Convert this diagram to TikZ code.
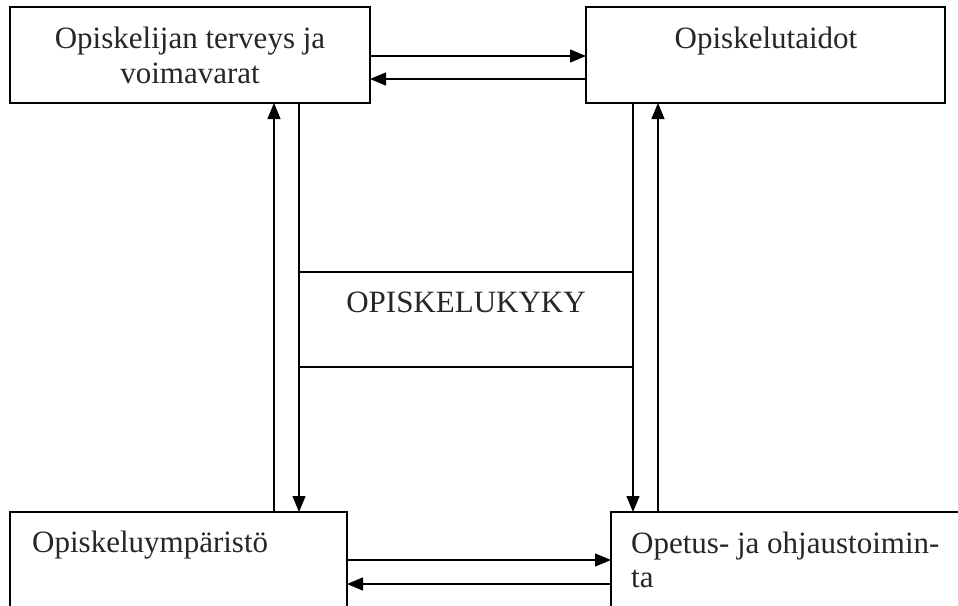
\documentclass[tikz,border=0pt]{standalone}
\usepackage{fontspec}
\setmainfont{Liberation Serif}
\usetikzlibrary{arrows.meta}

\tikzset{
  panel/.style={draw, line width=1.3pt, inner sep=0pt, outer sep=0pt, anchor=north west},
  lbl/.style={font=\fontsize{31}{35}\selectfont, inner sep=0pt, text=black!85},
  arr/.style={line width=1.3pt, -{Triangle[length=16pt,width=13pt]}}
}

\begin{document}
\begin{tikzpicture}[x=1pt, y=-1pt]
\useasboundingbox (0,0) rectangle (958,605);
\clip (0,0) rectangle (958,605);
% Boxes
\node[panel, minimum width=360pt, minimum height=96pt] (terveys) at (10,7) {};
\node[panel, minimum width=359pt, minimum height=96pt] (taidot) at (586,7) {};
\node[panel, minimum width=334pt, minimum height=95pt] (kyky) at (299,272) {};
\node[panel, minimum width=337pt, minimum height=120pt] (ymparisto) at (10,512) {};
\node[panel, minimum width=380pt, minimum height=120pt] (opetus) at (611,512) {};

% Texts
\node[lbl, anchor=base] (terveys1) at (190,48) {Opiskelijan terveys ja};
\node[lbl, anchor=base] (terveys2) at (190,83) {voimavarat};
\node[lbl, anchor=base] (taidotteksti) at (766,48) {Opiskelutaidot};
\node[lbl, anchor=base] (kykyteksti) at (466,312) {OPISKELUKYKY};
\node[lbl, anchor=base west] (ymparistoteksti) at (32,552) {Opiskeluympäristö};
\node[lbl, anchor=base west] (opetus1) at (631,553) {Opetus- ja ohjaustoimin-};
\node[lbl, anchor=base west] (opetus2) at (631,587) {ta};

% Lanes
\coordinate (laneA) at (274,0);
\coordinate (laneB) at (658,0);
\coordinate (rowA) at (0,56);
\coordinate (rowB) at (0,79);
\coordinate (rowC) at (0,560);
\coordinate (rowD) at (0,584);

% Arrows
\draw[arr] (terveys.east |- rowA) -- (taidot.west |- rowA);
\draw[arr] (taidot.west |- rowB) -- (terveys.east |- rowB);
\draw[arr] (ymparisto.east |- rowC) -- (opetus.west |- rowC);
\draw[arr] (opetus.west |- rowD) -- (ymparisto.east |- rowD);
\draw[arr] (ymparisto.north -| laneA) -- (terveys.south -| laneA);
\draw[arr] (terveys.south -| kyky.west) -- (ymparisto.north -| kyky.west);
\draw[arr] (taidot.south -| kyky.east) -- (opetus.north -| kyky.east);
\draw[arr] (opetus.north -| laneB) -- (taidot.south -| laneB);
\end{tikzpicture}
\end{document}
